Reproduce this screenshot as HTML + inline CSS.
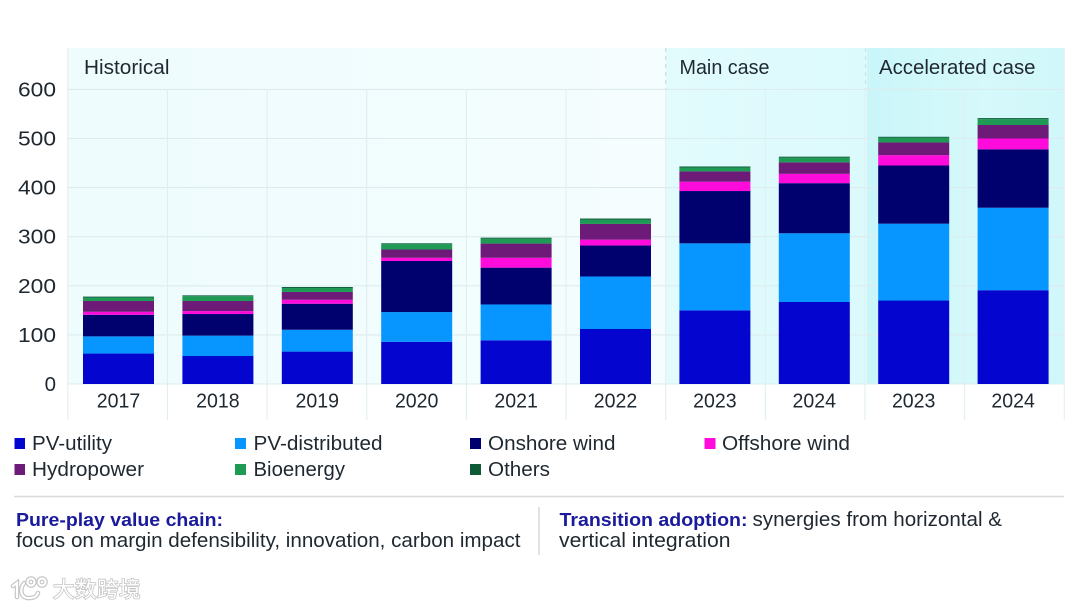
<!DOCTYPE html>
<html lang="en">
<head>
<meta charset="utf-8">
<title>Renewable capacity additions</title>
<style>
html,body{margin:0;padding:0;background:#fff;width:1080px;height:608px;overflow:hidden}
svg{display:block;filter:blur(0.35px)}
text{font-family:"Liberation Sans","Noto Sans CJK SC",sans-serif;fill:#1f2830}
</style>
</head>
<body>
<svg id="chart" width="1080" height="608" viewBox="0 0 1080 608" xmlns="http://www.w3.org/2000/svg">
  <defs>
    <linearGradient id="histGrad" x1="0" x2="1" y1="0" y2="0">
      <stop offset="0" stop-color="#eefcfd"/><stop offset="0.75" stop-color="#f3fdfe"/><stop offset="1" stop-color="#f6fdfe"/>
    </linearGradient>
    <linearGradient id="mainGrad" x1="0" x2="1" y1="0" y2="0">
      <stop offset="0" stop-color="#e2fbfd"/><stop offset="1" stop-color="#dcfafc"/>
    </linearGradient>
    <linearGradient id="accGrad" x1="0" x2="1" y1="0" y2="0">
      <stop offset="0" stop-color="#caf6f9"/><stop offset="0.6" stop-color="#d6f9fb"/><stop offset="1" stop-color="#d0f7fa"/>
    </linearGradient>
  </defs>

  <rect x="68" y="48" width="598" height="336" fill="url(#histGrad)"/>
  <rect x="666" y="48" width="201" height="336" fill="url(#mainGrad)"/>
  <rect x="867" y="48" width="197" height="336" fill="url(#accGrad)"/>

  <g id="grid"></g>

  <line x1="665.7" x2="665.7" y1="48" y2="89" stroke="#c9dfe2" stroke-width="1.2" stroke-dasharray="4 4"/>
  <line x1="865.5" x2="865.5" y1="48" y2="89" stroke="#c9e6ea" stroke-width="1.2" stroke-dasharray="4 4"/>

  <text x="84" y="74" font-size="20" textLength="85.5" lengthAdjust="spacingAndGlyphs">Historical</text>
  <text x="679.5" y="74" font-size="20" textLength="90" lengthAdjust="spacingAndGlyphs">Main case</text>
  <text x="879" y="74" font-size="20" textLength="156.5" lengthAdjust="spacingAndGlyphs">Accelerated case</text>

  <g id="bars"></g>
  <g id="yAxis"></g>
  <g id="xAxis"></g>

  <g>
    <g>
      <rect x="14.5" y="438" width="10.5" height="11" fill="#0505d0"/>
      <text x="32" y="450" font-size="20" textLength="80" lengthAdjust="spacingAndGlyphs">PV-utility</text>
    </g>
    <g>
      <rect x="235" y="438" width="11" height="11" fill="#0796ff"/>
      <text x="253.5" y="450" font-size="20" textLength="129" lengthAdjust="spacingAndGlyphs">PV-distributed</text>
    </g>
    <g>
      <rect x="470" y="438" width="11" height="11" fill="#00006e"/>
      <text x="488" y="450" font-size="20" textLength="127.5" lengthAdjust="spacingAndGlyphs">Onshore wind</text>
    </g>
    <g>
      <rect x="704.5" y="438" width="11" height="11" fill="#ff0bdc"/>
      <text x="722" y="450" font-size="20" textLength="128" lengthAdjust="spacingAndGlyphs">Offshore wind</text>
    </g>
    <g>
      <rect x="14.5" y="464" width="10.5" height="11" fill="#6e1a78"/>
      <text x="32" y="476" font-size="20" textLength="112" lengthAdjust="spacingAndGlyphs">Hydropower</text>
    </g>
    <g>
      <rect x="235" y="464" width="11" height="11" fill="#1e9a55"/>
      <text x="253.5" y="476" font-size="20" textLength="91.5" lengthAdjust="spacingAndGlyphs">Bioenergy</text>
    </g>
    <g>
      <rect x="470" y="464" width="11" height="11" fill="#0e5a38"/>
      <text x="488" y="476" font-size="20" textLength="62" lengthAdjust="spacingAndGlyphs">Others</text>
    </g>
  </g>

  <line x1="14" x2="1064" y1="496.5" y2="496.5" stroke="#d9dadb" stroke-width="1.4"/>
  <line x1="539" x2="539" y1="507" y2="555" stroke="#cfcfcf" stroke-width="1.2"/>

  <text x="16" y="526" font-size="18.5" font-weight="700" style="fill:#1a1a9c" textLength="207" lengthAdjust="spacingAndGlyphs">Pure-play value chain:</text>
  <text x="16" y="547" font-size="20" textLength="504.5" lengthAdjust="spacingAndGlyphs">focus on margin defensibility, innovation, carbon impact</text>
  <text x="559.5" y="526" font-size="18.5" font-weight="700" style="fill:#1a1a9c" textLength="188" lengthAdjust="spacingAndGlyphs">Transition adoption:</text>
  <text x="752.5" y="526" font-size="20" textLength="249.5" lengthAdjust="spacingAndGlyphs">synergies from horizontal &amp;</text>
  <text x="559" y="547" font-size="20" textLength="171.5" lengthAdjust="spacingAndGlyphs">vertical integration</text>

  <g>
    <g fill="none" stroke="#c4c4c4" stroke-width="4.5" stroke-linecap="round">
      <path d="M13 586 L17 583 L17 597"/><path d="M24 583 C19 590 21 599 30 598 C34 598 37 596 38 593"/>
      <circle cx="31" cy="582" r="3.5"/><circle cx="42" cy="582" r="3.5"/>
    </g>
    <g fill="none" stroke="#ffffff" stroke-width="2.2" stroke-linecap="round">
      <path d="M13 586 L17 583 L17 597"/><path d="M24 583 C19 590 21 599 30 598 C34 598 37 596 38 593"/>
      <circle cx="31" cy="582" r="3.5"/><circle cx="42" cy="582" r="3.5"/>
    </g>
    <text x="53" y="597" font-size="21.5" textLength="87.5" style="fill:#ffffff;stroke:#c4c4c4;stroke-width:1.6;paint-order:stroke;font-family:'Liberation Sans','Noto Sans CJK SC',sans-serif">大数跨境</text>
  </g>
</svg>

<script>
const categories = ["2017","2018","2019","2020","2021","2022","2023","2024","2023","2024"];
const pvUtility = [62, 57, 66, 86, 89, 112, 150, 167, 170, 191];
const pvDistributed = [35, 41.5, 44.5, 60.5, 73, 107, 136.5, 140, 156.5, 168];
const onshoreWind = [44, 44, 53, 104, 75, 63, 106.5, 102, 118.5, 119];
const offshoreWind = [6, 6, 8, 6.5, 20, 12, 19, 19, 21, 22];
const hydropower = [22, 20.5, 16, 17, 29, 32, 21, 23.5, 26, 27.5];
const bioenergy = [7, 10, 8, 11, 10, 9, 8, 9.5, 9.5, 12];
const others = [2, 1.5, 2, 1.5, 2, 2, 2, 2, 2, 2];
const yTicks = [0, 100, 200, 300, 400, 500, 600];

const seriesValues = [pvUtility, pvDistributed, onshoreWind, offshoreWind, hydropower, bioenergy, others];
const seriesNames = ["pv-utility", "pv-distributed", "onshore-wind", "offshore-wind", "hydropower", "bioenergy", "others"];
const seriesColors = ["#0505d0", "#0796ff", "#00006e", "#ff0bdc", "#6e1a78", "#1e9a55", "#0e5a38"];

const NS = "http://www.w3.org/2000/svg";
const yScale = function (v) { return 384 - v * 0.491; };
const barCenter = function (i) { return 118.5 + 99.4 * i; };
const gridX = function (i) { return 67.8 + 99.65 * i; };
const barWidth = 71;

const gridGroup = document.getElementById("grid");
const barsGroup = document.getElementById("bars");
const yGroup = document.getElementById("yAxis");
const xGroup = document.getElementById("xAxis");

yTicks.forEach(function (t) {
  const line = document.createElementNS(NS, "line");
  line.setAttribute("x1", 68);
  line.setAttribute("x2", 1064);
  line.setAttribute("y1", yScale(t));
  line.setAttribute("y2", yScale(t));
  line.setAttribute("stroke", "#dcecee");
  line.setAttribute("stroke-width", "1.1");
  
  
  gridGroup.appendChild(line);

  const label = document.createElementNS(NS, "text");
  label.setAttribute("x", 56);
  label.setAttribute("y", yScale(t) + 7);
  label.setAttribute("font-size", "20.5");
  label.setAttribute("text-anchor", "end");
  if (t > 0) {
    label.setAttribute("textLength", "38");
    label.setAttribute("lengthAdjust", "spacingAndGlyphs");
  }
  label.textContent = String(t);
  
  
  yGroup.appendChild(label);
});

for (let i = 0; i <= categories.length; i++) {
  const line = document.createElementNS(NS, "line");
  line.setAttribute("x1", gridX(i));
  line.setAttribute("x2", gridX(i));
  line.setAttribute("y1", i === 0 || i === categories.length ? 48 : 89);
  line.setAttribute("y2", 420);
  line.setAttribute("stroke", i === 0 || i === categories.length ? "#e6eeef" : "#e1eef0");
  line.setAttribute("stroke-width", "1.1");
  
  
  gridGroup.appendChild(line);
}

categories.forEach(function (cat, i) {
  let cumulative = 0;
  seriesValues.forEach(function (values, s) {
    const start = cumulative;
    cumulative += values[i];
    const rect = document.createElementNS(NS, "rect");
    rect.setAttribute("x", barCenter(i) - barWidth / 2);
    rect.setAttribute("y", yScale(cumulative));
    rect.setAttribute("width", barWidth);
    rect.setAttribute("height", yScale(start) - yScale(cumulative));
    rect.setAttribute("fill", seriesColors[s]);
    
    
    barsGroup.appendChild(rect);
  });

  const label = document.createElementNS(NS, "text");
  label.setAttribute("x", barCenter(i));
  label.setAttribute("y", 407.5);
  label.setAttribute("font-size", "20.5");
  label.setAttribute("text-anchor", "middle");
  label.setAttribute("textLength", "43.5");
  label.setAttribute("lengthAdjust", "spacingAndGlyphs");
  label.textContent = cat;
  
  
  xGroup.appendChild(label);
});
</script>
</body>
</html>
